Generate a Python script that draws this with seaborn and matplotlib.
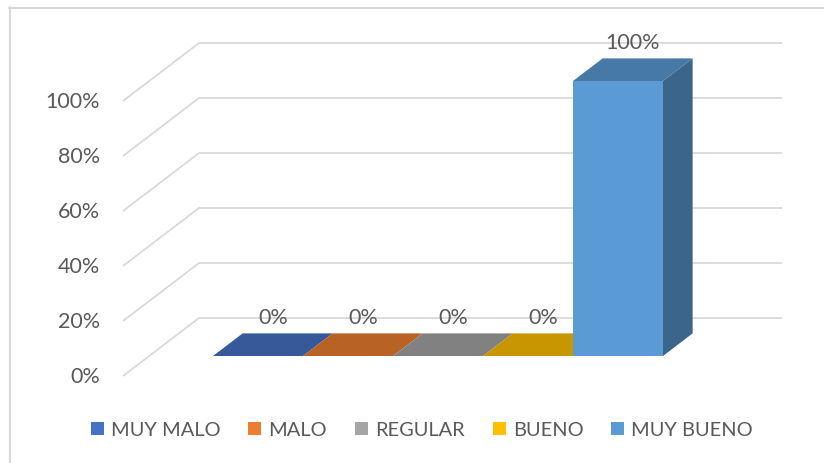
import matplotlib
matplotlib.use("Agg")
import matplotlib.pyplot as plt
import seaborn as sns
import pandas as pd
import numpy as np
from matplotlib.patches import Polygon, Patch
from matplotlib.lines import Line2D
from matplotlib.colors import to_rgb

# ---- data ----
categories = ["MUY MALO", "MALO", "REGULAR", "BUENO", "MUY BUENO"]
values = [0, 0, 0, 0, 100]
bar_labels = ["0%", "0%", "0%", "0%", "100%"]
ticks = [0, 20, 40, 60, 80, 100]
tick_labels = ["0%", "20%", "40%", "60%", "80%", "100%"]
colors = ["#4472C4", "#ED7D31", "#A5A5A5", "#FFC000", "#5B9BD5"]

sns.set_style("white")
plt.rcParams["font.family"] = ["Lato", "DejaVu Sans"]
TXT = "#595959"
GRID = "#d9d9d9"

W, H = 824, 464
fig = plt.figure(figsize=(W / 100, H / 100), dpi=100)
ax = fig.add_axes([0, 0, 1, 1])

df = pd.DataFrame({"cat": categories, "val": values})
sns.barplot(data=df, x="cat", y="val", hue="cat", palette=colors,
            saturation=1, width=1.0, linewidth=0, legend=False, ax=ax, zorder=3)

# pixel <-> data mapping
PXU = 90.0    # px per category unit
PYU = 2.75    # px per percent
X0PX, Y0PX = 213.0, 357.0
def dx_px(px):
    return -0.5 + (px - X0PX) / PXU
def dy_px(py):
    return (Y0PX - py) / PYU

ax.set_xlim(dx_px(0), dx_px(W))
ax.set_ylim(dy_px(H), dy_px(0))
ax.axis("off")

DX = 76.0 / PXU      # full depth x offset in data units
DY = 58.0 / PYU      # full depth y offset in data units
D0 = 0.345           # depth of bar front plane
BD = 0.39            # bar depth

def proj(x, y, d):
    return (x + (d - D0) * DX, y + (d - D0) * DY)

x_left = dx_px(123) + D0 * DX
x_right = dx_px(782) - (1 - D0) * DX

# walls / gridlines
for v, lab in zip(ticks, tick_labels):
    p0 = proj(x_left, v, 0)
    p1 = proj(x_left, v, 1)
    p2 = proj(x_right, v, 1)
    ax.plot([p0[0], p1[0], p2[0]], [p0[1], p1[1], p2[1]], color=GRID,
            lw=1.3, zorder=1, solid_capstyle="butt")
    ax.text(dx_px(100), p0[1], lab, ha="right", va="center",
            fontsize=15.5, color=TXT)

def shade(c, f):
    r, g, b = to_rgb(c)
    return (r * f, g * f, b * f)

# 3D faces
for i, (p, c, v, lab) in enumerate(zip(ax.patches, colors, values, bar_labels)):
    x0 = p.get_x()
    x1 = x0 + p.get_width()
    h = p.get_height()
    ox, oy = BD * DX, BD * DY
    top = [(x0, h), (x1, h), (x1 + ox, h + oy), (x0 + ox, h + oy)]
    ax.add_patch(Polygon(top, closed=True, facecolor=shade(c, 0.78),
                         edgecolor="none", zorder=2))
    if h > 0:
        side = [(x1, 0), (x1 + ox, oy), (x1 + ox, h + oy), (x1, h)]
        ax.add_patch(Polygon(side, closed=True, facecolor=shade(c, 0.65),
                             edgecolor="none", zorder=2))
    ax.text((x0 + x1) / 2 + ox / 2, h + oy + 16 / PYU, lab, ha="center",
            va="center", fontsize=15.5, color=TXT, zorder=4)

# outer frame
fig.add_artist(Line2D([9.5 / W, 9.5 / W], [0, 1 - 8 / H], transform=fig.transFigure,
                      color=GRID, lw=1.5))
fig.add_artist(Line2D([9 / W, 1], [1 - 8.5 / H, 1 - 8.5 / H], transform=fig.transFigure,
                      color=GRID, lw=1.5))

handles = [Patch(facecolor=c, edgecolor="none") for c in colors]
fig.legend(handles, categories, loc="center", bbox_to_anchor=(422 / W, 1 - 431 / H),
           ncol=5, frameon=False, fontsize=14.4, labelcolor=TXT,
           handlelength=0.65, handleheight=0.65, handletextpad=0.35,
           columnspacing=1.4, borderpad=0)

fig.savefig("out.png", dpi=100)
